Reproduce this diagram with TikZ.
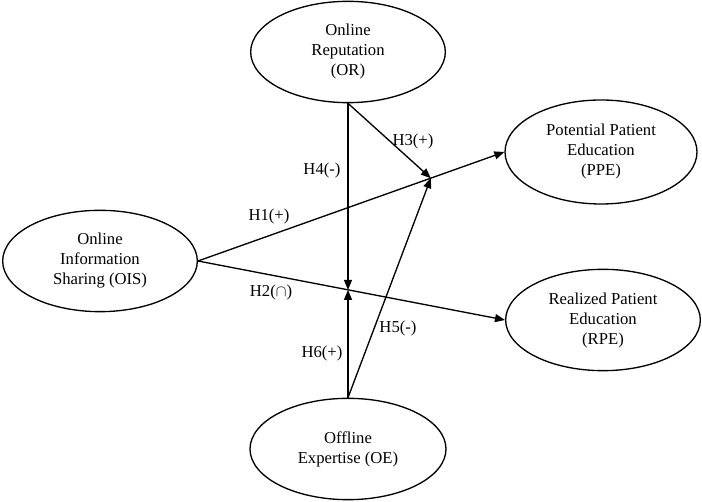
\documentclass[tikz,border=0pt]{standalone}
\usepackage{fontspec}
\setmainfont{Liberation Serif}
\usetikzlibrary{shapes.geometric,arrows.meta,calc}
\tikzset{
    construct/.style={draw, ellipse, line width=1pt, inner sep=0pt, minimum width=146pt, minimum height=76pt, align=center, font=\fontsize{12.5}{15}\selectfont},
    path/.style={line width=1pt, -{Triangle[length=7.5pt,width=6pt]}},
    hyp/.style={font=\fontsize{12.5}{15}\selectfont}
}
\begin{document}
\begin{tikzpicture}[x=0.75pt, y=0.75pt]
    \useasboundingbox (0,0) rectangle (702,502);

    % Konstrukte
    \node[construct] (OR) at (348,450) {Online\\Reputation\\(OR)};
    \node[construct, minimum width=144pt, minimum height=78pt] (PPE) at (601,350) {Potential Patient\\Education\\(PPE)};
    \node[construct] (OIS) at (100,241) {Online\\Information\\Sharing (OIS)};
    \node[construct] (RPE) at (603,182) {Realized Patient\\Education\\(RPE)};
    \node[construct, minimum width=147pt] (OE) at (348,53) {Offline\\Expertise (OE)};

    % Hilfspunkte auf den Pfaden
    \coordinate (m1) at ($(OIS.east)!0.76!(PPE.west)$);
    \coordinate (m2) at ($(OIS.east)!0.49!(RPE.west)$);

    % Pfade
    \draw[path] (OIS.east) -- (PPE.west);
    \draw[path] (OIS.east) -- (RPE.west);
    \draw[path] (OR.south) -- (OR.south |- m2);
    \draw[path] (OE.north) -- (OE.north |- m2);
    \draw[path] (OR.south) -- (m1);
    \draw[path] (OE.north) -- (m1);

    % Hypothesen
    \node[hyp] (h1) at (269,286) {H1(+)};
    \node[hyp] (h2) at (271,210) {H2($\cap$)};
    \node[hyp] (h3) at (413,360) {H3(+)};
    \node[hyp] (h4) at (322,332) {H4(-)};
    \node[hyp] (h5) at (398,174) {H5(-)};
    \node[hyp] (h6) at (322,149) {H6(+)};
\end{tikzpicture}
\end{document}
